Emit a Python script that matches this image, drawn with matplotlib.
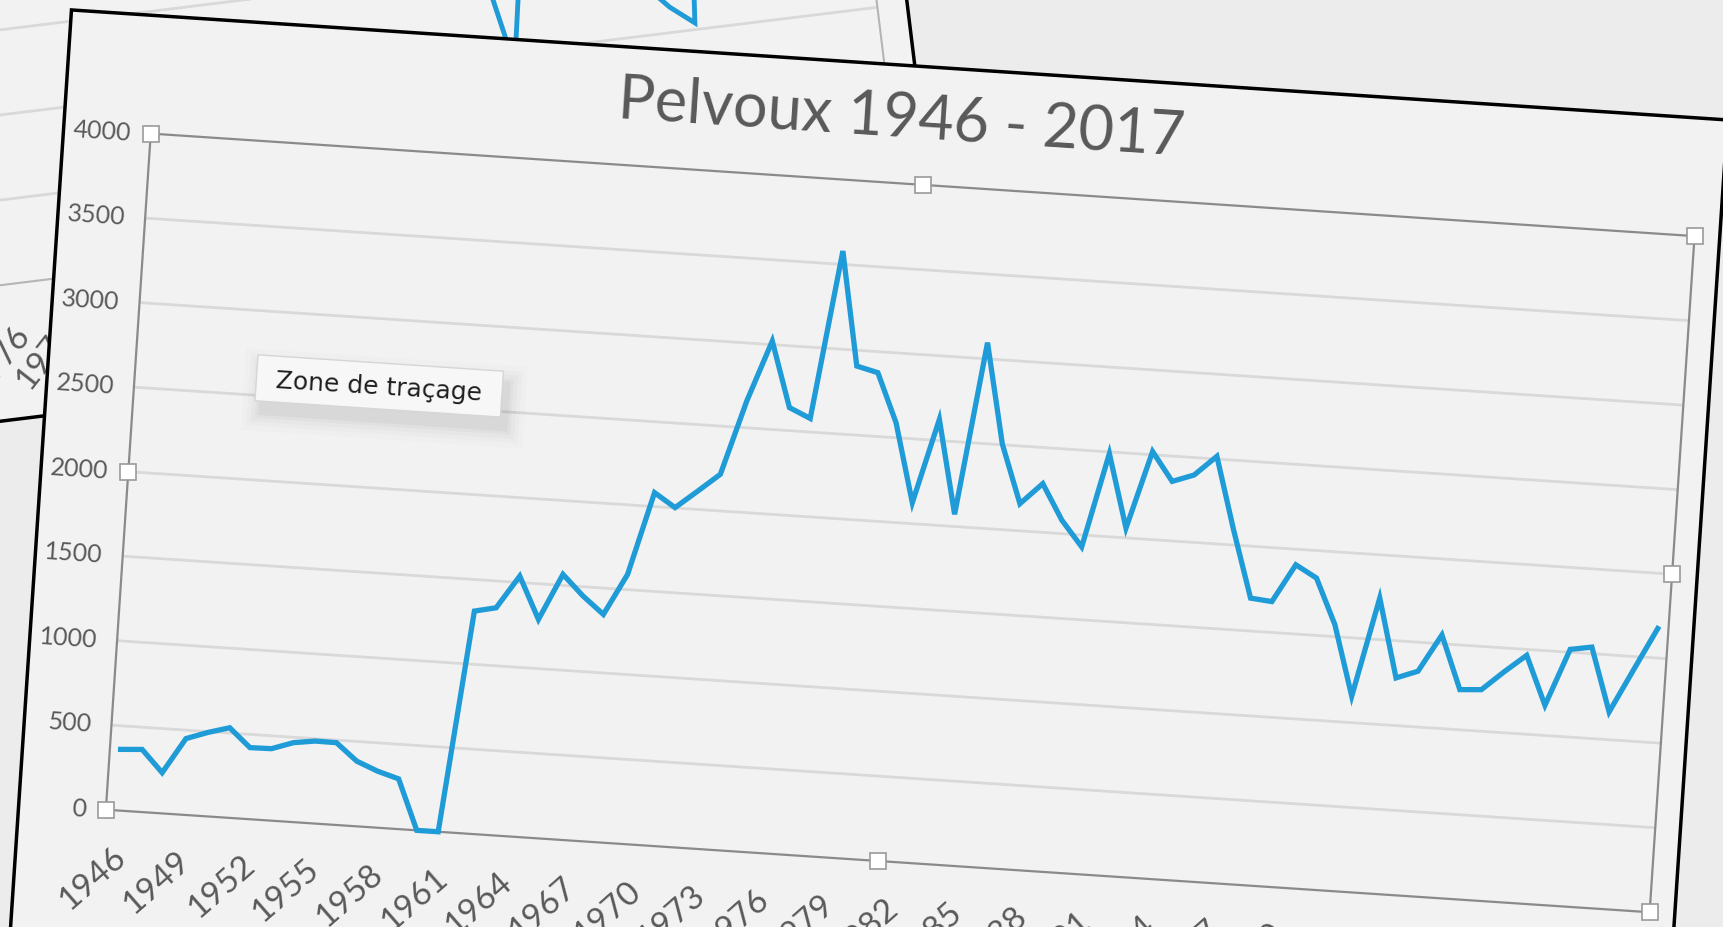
import numpy as np
import matplotlib
matplotlib.use("Agg")
import matplotlib.pyplot as plt
from matplotlib.transforms import Affine2D
from matplotlib.patches import Rectangle

# Pelvoux series
years = list(range(1946, 2018))
values = [361, 369, 240, 450, 495, 531, 422, 424, 468, 486, 485, 384, 333, 296, 0, 0,
          1314, 1342, 1538, 1290, 1565, 1445, 1345, 1590, 2082, 2002,
          2108, 2216, 2658, 3021, 2636, 2580, 3579, 2907, 2876, 2588,
          2124, 2625, 2072, 3096, 2504, 2160, 2287, 2079, 1930, 2490,
          2058, 2519, 2351, 2397, 2516, 2090, 1694, 1682, 1908, 1838,
          1570, 1156, 1745, 1281, 1329, 1552, 1237, 1245, 1359, 1465,
          1178, 1517, 1539, 1164, 1420, 1674]
ytick_vals = [0, 500, 1000, 1500, 2000, 2500, 3000, 3500, 4000]
xtick_years = list(range(1946, 2018, 3))
title = "Pelvoux 1946 - 2017"
tooltip = "Zone de traçage"

# chart lying behind, only a corner of it shows
back_vals = [2000, 1600, 920, 1700, 1900, 2200, 1800, 1420, 1300, 1150, 1040, 2500, 2300]
back_ticks = [-23, -21, -19]
back_tick_labels = ["1973", "1976", "1979"]

W, H = 1724, 928
BLUE = "#1f9bd7"
GRID = "#d9d9d9"
TXT = "#595959"
FONT = "Lato"

fig = plt.figure(figsize=(W / 100, H / 100), dpi=100)
fig.patch.set_facecolor("#ececec")

# ---- back chart (rotated counter-clockwise) ----
bx0, by0, bw, bh = -202, 752, 1100, 676
axb = fig.add_axes([bx0 / W, by0 / H, bw / W, bh / H])
axb.set_axis_off()
axb.set_xlim(17.96 - bw / 23.0, 17.96)
axb.set_ylim(0, 4000)
rot_b = Affine2D().rotate_deg_around(bx0 + bw, by0, 7)
Tb = axb.transData + rot_b

axb.add_patch(Rectangle((-600, by0 - 135), bx0 + bw + 30 + 600, 2000, transform=rot_b,
                        fc="#f2f2f2", ec="black", lw=2.5, clip_on=False, zorder=0))
xl = axb.get_xlim()
axb.hlines(ytick_vals[1:-1], xl[0], xl[1], colors=GRID, lw=2, transform=Tb,
           clip_on=False, zorder=1)
axb.add_patch(Rectangle((xl[0], 0), xl[1] - xl[0], 4000, transform=Tb, fill=False,
                        ec="#b5b5b5", lw=1.5, clip_on=False, zorder=1))
axb.plot(np.arange(len(back_vals)), back_vals, color=BLUE, lw=3.5, transform=Tb,
         clip_on=False, solid_joinstyle="miter", zorder=2)
for idx, lab in zip(back_ticks, back_tick_labels):
    axb.text(idx, 0, lab, transform=axb.transData + Affine2D().translate(10, -46) + rot_b,
             rotation=52, rotation_mode="anchor", ha="right", va="center",
             fontsize=24, color=TXT, family=FONT)

# ---- front chart (rotated clockwise) ----
cx, cy = 900.2, 404.1
fx0, fy0, fw, fh = 126.6, 65.3, 1547.2, 677.6
ang = -3.8
ax = fig.add_axes([fx0 / W, fy0 / H, fw / W, fh / H])
ax.set_axis_off()
ax.set_xlim(1945.5, 2017.5)
ax.set_ylim(0, 4000)
rot = Affine2D().rotate_deg_around(cx, cy, ang)
T = ax.transData + rot


def shifted(dx, dy):
    return ax.transData + Affine2D().translate(dx, dy) + rot


# chart frame
ax.add_patch(Rectangle((39.3, -400), 1699 - 39.3, 861 + 400, transform=rot,
                       fc="#f2f2f2", ec="black", lw=2.5, clip_on=False, zorder=0))

ax.text(874.5, 808.5, title, transform=rot, rotation=ang, rotation_mode="anchor",
        ha="center", va="center", fontsize=44, color=TXT, family=FONT)

x0, x1 = ax.get_xlim()
ax.hlines(ytick_vals[1:-1], x0, x1, colors=GRID, lw=2, transform=T, clip_on=False, zorder=1)
ax.add_patch(Rectangle((x0, 0), x1 - x0, 4000, transform=T, fill=False, ec="#8a8a8a",
                       lw=1.6, clip_on=False, zorder=2))

ax.plot(years, values, color=BLUE, lw=3.8, transform=T, clip_on=False,
        solid_joinstyle="miter", zorder=3)

# selection handles of the plot area
hx = [x0, (x0 + x1) / 2, x1, x0, x1, x0, (x0 + x1) / 2, x1]
hy = [0, 0, 0, 2000, 2000, 4000, 4000, 4000]
ax.plot(hx, hy, "s", ms=11, mfc="white", mec="#9a9a9a", mew=1.2, ls="none",
        transform=T, clip_on=False, zorder=5)

for v in ytick_vals:
    ax.text(x0, v, str(v), transform=shifted(-20, 0), rotation=ang, rotation_mode="anchor",
            ha="right", va="center", fontsize=18, color=TXT, family=FONT)

for yr in xtick_years:
    ax.text(yr, 0, str(yr), transform=shifted(8, -41), rotation=45 + ang,
            rotation_mode="anchor", ha="right", va="center", fontsize=24,
            color=TXT, family=FONT)

# "Zone de traçage" tooltip with a soft shadow
tx, ty, tw, th = 371.3, 506.2, 246, 46
for grow, a in [(18, 0.012), (13, 0.016), (9, 0.02), (5, 0.025), (2, 0.03)]:
    ax.add_patch(Rectangle((tx - tw / 2 - grow + 6, ty - th / 2 - grow - 12),
                           tw + 2 * grow, th + 2 * grow, transform=rot,
                           fc="black", alpha=a, lw=0, clip_on=False, zorder=6))
ax.add_patch(Rectangle((tx - tw / 2, ty - th / 2), tw, th, transform=rot, fc="#f7f7f7",
                       ec="#d6d6d6", lw=1, clip_on=False, zorder=7))
ax.text(tx, ty, tooltip, transform=rot, rotation=ang + 0.3, rotation_mode="anchor",
        ha="center", va="center", fontsize=18, color="#1e1e1e", family="DejaVu Sans",
        zorder=8)

fig.savefig("out.png", dpi=100)
